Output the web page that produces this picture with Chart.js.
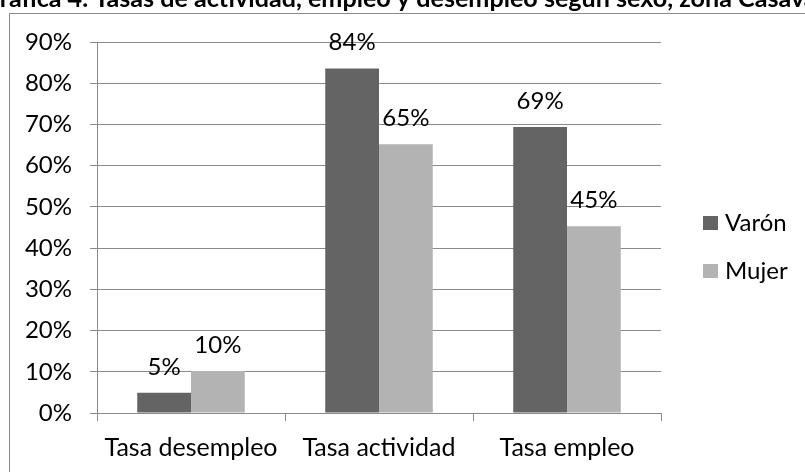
<!DOCTYPE html>
<html>
<head>
<meta charset="utf-8">
<script src="https://cdn.jsdelivr.net/npm/chart.js@4.4.0/dist/chart.umd.min.js"></script>
<style>
    html, body { margin: 0; padding: 0; background: #fff; }
    #wrap { position: relative; width: 805px; height: 472px; overflow: hidden; }
</style>
</head>
<body>
<div id="wrap"><canvas id="myChart" width="805" height="472"></canvas></div>
<script>
const titleText = 'Gráfica 4. Tasas de actividad, empleo y desempleo según sexo, zona Casavalle';
const categories = ['Tasa desempleo', 'Tasa actividad', 'Tasa empleo'];
const seriesNames = ['Varón', 'Mujer'];
const varonValues = [4.9, 83.6, 69.4];
const mujerValues = [10.2, 65.2, 45.3];
const yTicks = [0, 10, 20, 30, 40, 50, 60, 70, 80, 90];

const FONT = "Lato, 'Open Sans', sans-serif";
const GRID = '#8a8a8a';

// frame and cut-off title
const framePlugin = {
    id: 'frame',
    beforeDraw(chart) {
        const ctx = chart.ctx;
        ctx.save();
        ctx.strokeStyle = '#8a8a8a';
        ctx.lineWidth = 1;
        ctx.strokeRect(9.5, 13.5, 900, 600);

        ctx.font = `bold 100px ${FONT}`;
        const visible = 'ráfica 4. Tasas de actividad, empleo y desempleo según sexo, zona Casav';
        const size = 100 * 805 / ctx.measureText(visible).width;
        ctx.font = `bold ${size}px ${FONT}`;
        const gWidth = ctx.measureText('G').width;
        ctx.fillStyle = '#000';
        ctx.textBaseline = 'alphabetic';
        ctx.textAlign = 'left';
        ctx.fillText(titleText, -gWidth, 7);
        ctx.restore();
    }
};

// value labels above the bars
const labelPlugin = {
    id: 'valueLabels',
    afterDatasetsDraw(chart) {
        const ctx = chart.ctx;
        ctx.save();
        ctx.font = `24px ${FONT}`;
        ctx.fillStyle = '#000';
        ctx.textAlign = 'center';
        ctx.textBaseline = 'middle';
        chart.data.datasets.forEach((ds, i) => {
            chart.getDatasetMeta(i).data.forEach((bar, j) => {
                ctx.fillText(Math.round(ds.data[j]) + '%', bar.x, bar.y - 26);
            });
        });
        ctx.restore();
    }
};

// legend on the right
const legendPlugin = {
    id: 'sideLegend',
    afterDraw(chart) {
        const ctx = chart.ctx;
        ctx.save();
        ctx.font = `24px ${FONT}`;
        ctx.textBaseline = 'middle';
        ctx.textAlign = 'left';
        chart.data.datasets.forEach((ds, i) => {
            const cy = 223 + i * 48;
            ctx.fillStyle = ds.backgroundColor;
            ctx.fillRect(703, cy - 7, 15, 14);
            ctx.fillStyle = '#000';
            ctx.fillText(ds.label, 725, cy);
        });
        ctx.restore();
    }
};

new Chart(document.getElementById('myChart'), {
    type: 'bar',
    data: {
        labels: categories,
        datasets: [
            { label: seriesNames[0], data: varonValues, backgroundColor: '#646464' },
            { label: seriesNames[1], data: mujerValues, backgroundColor: '#b3b3b3' }
        ]
    },
    options: {
        responsive: false,
        animation: false,
        devicePixelRatio: 1,
        layout: { padding: { top: 42, right: 144, left: 0, bottom: 0 } },
        datasets: { bar: { categoryPercentage: 0.572, barPercentage: 1.0 } },
        scales: {
            x: {
                grid: { offset: true, drawOnChartArea: false, drawTicks: true, tickLength: 8, color: GRID },
                border: { color: GRID },
                ticks: { color: '#000', font: { family: FONT, size: 25 }, padding: 12 },
                afterFit(scale) { scale.height = 59; }
            },
            y: {
                min: 0,
                max: 90,
                afterBuildTicks(scale) { scale.ticks = yTicks.map(v => ({ value: v })); },
                grid: { color: GRID, tickLength: 7 },
                border: { color: GRID },
                ticks: { color: '#000', font: { family: FONT, size: 24 }, padding: 18, callback: v => v + '%' },
                afterFit(scale) { scale.width = 97; }
            }
        },
        plugins: {
            legend: { display: false },
            tooltip: { enabled: false }
        }
    },
    plugins: [framePlugin, labelPlugin, legendPlugin]
});
</script>
</body>
</html>
